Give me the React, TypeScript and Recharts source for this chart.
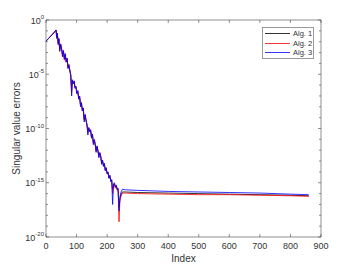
import { LineChart, Line, XAxis, YAxis, Legend } from 'recharts';

// index of each sample (shared by all three algorithms)
const indices = [
  0, 10, 20, 28, 33, 35, 37, 40, 42, 45,
  48, 51, 54, 57, 60, 63, 66, 69, 72, 75,
  78, 81, 84, 86, 89, 92, 95, 98, 101, 104,
  107, 110, 113, 116, 119, 122, 125, 128, 131, 134,
  137, 140, 143, 146, 149, 152, 155, 158, 161, 164,
  167, 170, 173, 176, 179, 182, 185, 188, 191, 194,
  197, 200, 203, 206, 209, 212, 215, 218, 221, 224,
  227, 230, 233, 236, 239, 242,
  245, 250, 260, 300, 400, 500, 600, 700, 800, 860,
];

// log10 of the error
const alg1Exp = [
  -1.95, -1.65, -1.35, -1.1, -0.92, -1.7, -1.3, -2.1, -1.8, -2.7,
  -2.3, -2.7, -3.2, -2.9, -3.5, -3.2, -3.8, -3.6, -4.3, -4.1,
  -4.7, -5.0, -6.4, -5.6, -5.8, -5.7, -6.2, -6.2, -6.7, -6.6,
  -7.2, -7.1, -7.8, -7.7, -8.3, -8.2, -9.1, -8.8, -9.3, -9.6,
  -10.2, -10.0, -10.2, -10.2, -10.8, -10.6, -11.3, -11.1, -11.5, -12.0,
  -11.7, -12.1, -12.5, -12.3, -12.6, -13.1, -13.0, -13.4, -13.3, -13.8,
  -13.7, -14.1, -14.1, -14.5, -14.4, -14.8, -14.8, -15.6, -15.2, -15.1,
  -15.4, -15.3, -15.6, -15.6, -17.3, -16.5,
  -16.1, -15.85, -15.85, -15.9, -15.95, -16.0, -16.05, -16.1, -16.15, -16.2,
];

const alg2Exp = [
  -1.95, -1.65, -1.35, -1.1, -0.92, -1.65, -1.25, -2.3, -1.75, -2.8,
  -2.25, -2.65, -3.3, -2.85, -3.7, -3.15, -3.85, -3.55, -4.4, -4.15,
  -4.65, -5.1, -6.7, -5.55, -5.85, -5.65, -6.25, -6.15, -6.75, -6.55,
  -7.25, -7.05, -7.9, -7.65, -8.35, -8.15, -9.2, -8.75, -9.25, -9.65,
  -10.4, -9.95, -10.25, -10.15, -10.85, -10.55, -11.4, -11.05, -11.45, -12.1,
  -11.65, -12.05, -12.6, -12.25, -12.55, -13.2, -12.95, -13.45, -13.25, -13.85,
  -13.65, -14.15, -14.05, -14.55, -14.35, -14.85, -14.75, -16.0, -15.3, -15.1,
  -15.5, -15.3, -15.7, -15.7, -18.6, -16.6,
  -16.3, -15.95, -15.95, -16.0, -16.05, -16.1, -16.1, -16.15, -16.2, -16.25,
];

const alg3Exp = [
  -1.95, -1.65, -1.35, -1.1, -0.92, -1.6, -1.2, -2.2, -1.7, -2.9,
  -2.2, -2.6, -3.4, -2.8, -3.6, -3.1, -3.9, -3.5, -4.5, -4.2,
  -4.6, -5.2, -7.0, -5.5, -5.9, -5.6, -6.3, -6.1, -6.8, -6.5,
  -7.3, -7.0, -8.0, -7.6, -8.4, -8.1, -9.4, -8.7, -9.2, -9.7,
  -10.6, -9.9, -10.3, -10.1, -10.9, -10.5, -11.5, -11.0, -11.4, -12.2,
  -11.6, -12.0, -12.7, -12.2, -12.5, -13.3, -12.9, -13.5, -13.2, -13.9,
  -13.6, -14.2, -14.0, -14.6, -14.3, -14.9, -14.7, -17.0, -15.1, -15.0,
  -15.4, -15.2, -15.6, -15.5, -17.6, -16.3,
  -15.9, -15.6, -15.65, -15.7, -15.8, -15.85, -15.9, -15.95, -16.05, -16.1,
];

const xTicks = [0, 100, 200, 300, 400, 500, 600, 700, 800, 900];
const yTickExps = [-20, -19, -18, -17, -16, -15, -14, -13, -12, -11, -10, -9, -8, -7, -6, -5, -4, -3, -2, -1, 0];

const data = indices.map((i, k) => ({
  i,
  a1: 10 ** alg1Exp[k],
  a2: 10 ** alg2Exp[k],
  a3: 10 ** alg3Exp[k],
}));

const yTicks = yTickExps.map((e) => 10 ** e);

const FONT = '"Liberation Sans", Arial, sans-serif';
const AXIS = '#444';
const TEXT = '#333';

function BottomTick({ x, y, payload }: any) {
  return (
    <g>
      <line x1={x} x2={x} y1={y} y2={y - 3} stroke={AXIS} strokeWidth={0.6} />
      <text x={x} y={y + 12} textAnchor="middle" fontSize={9} fill={TEXT} fontFamily={FONT}>
        {payload.value}
      </text>
    </g>
  );
}

function TopTick({ x, y }: any) {
  return <line x1={x} x2={x} y1={y} y2={y + 3} stroke={AXIS} strokeWidth={0.6} />;
}

function LeftTick({ x, y, payload }: any) {
  const e = Math.round(Math.log10(payload.value));
  const major = e % 5 === 0;
  return (
    <g>
      <line x1={x} x2={x + (major ? 3 : 2)} y1={y} y2={y} stroke={AXIS} strokeWidth={0.6} />
      {major && (
        <text x={x - 2} y={y + 3.5} textAnchor="end" fontSize={9} fill={TEXT} fontFamily={FONT}>
          <tspan>10</tspan>
          <tspan dy={-4.5} fontSize={6}>{e}</tspan>
        </text>
      )}
    </g>
  );
}

function RightTick({ x, y, payload }: any) {
  const e = Math.round(Math.log10(payload.value));
  const major = e % 5 === 0;
  return <line x1={x} x2={x - (major ? 3 : 2)} y1={y} y2={y} stroke={AXIS} strokeWidth={0.6} />;
}

function renderLegend(props: any) {
  const items = (props.payload || []).filter((it: any) => it.type !== 'none');
  return (
    <div
      style={{
        position: 'relative',
        width: 52,
        height: 32,
        boxSizing: 'border-box',
        border: '1px solid #999',
        background: '#fff',
        fontFamily: FONT,
        fontSize: 7.5,
        color: TEXT,
      }}
    >
      {items.map((it: any, k: number) => (
        <div key={it.value} style={{ position: 'absolute', left: 1, top: 1 + k * 9.5, height: 9, display: 'flex', alignItems: 'center' }}>
          <svg width={26} height={9}>
            <line x1={1} x2={26} y1={4.5} y2={4.5} stroke={it.color} strokeWidth={0.8} />
          </svg>
          <span style={{ marginLeft: 3, whiteSpace: 'nowrap' }}>{it.value}</span>
        </div>
      ))}
    </div>
  );
}

export default function App() {
  return (
    <div style={{ position: 'absolute', left: 0, top: 0, width: 354, height: 266, background: '#fff' }}>
      <LineChart width={354} height={266} data={data} margin={{ top: 19, right: 32, bottom: 0, left: 0 }}>
        <XAxis
          dataKey="i"
          type="number"
          domain={[0, 900]}
          ticks={xTicks}
          interval={0}
          height={29}
          tickSize={0}
          tickMargin={0}
          tickLine={false}
          tick={<BottomTick />}
          axisLine={{ stroke: AXIS, strokeWidth: 0.6 }}
          label={{ value: 'Index', position: 'insideBottom', offset: 4, fontSize: 10, fill: TEXT, fontFamily: FONT }}
        />
        <XAxis
          xAxisId="top"
          orientation="top"
          dataKey="i"
          type="number"
          domain={[0, 900]}
          ticks={xTicks}
          interval={0}
          height={1}
          tickSize={0}
          tickMargin={0}
          tickLine={false}
          tick={<TopTick />}
          axisLine={{ stroke: AXIS, strokeWidth: 0.6 }}
        />
        <YAxis
          type="number"
          scale="log"
          domain={[1e-20, 1]}
          allowDataOverflow
          ticks={yTicks}
          interval={0}
          width={46}
          tickSize={0}
          tickMargin={0}
          tickLine={false}
          tick={<LeftTick />}
          axisLine={{ stroke: AXIS, strokeWidth: 0.6 }}
          label={{
            value: 'Singular value errors',
            angle: -90,
            position: 'insideLeft',
            offset: 16,
            fontSize: 10,
            fill: TEXT,
            fontFamily: FONT,
            style: { textAnchor: 'middle' },
          }}
        />
        <YAxis
          yAxisId="right"
          orientation="right"
          type="number"
          scale="log"
          domain={[1e-20, 1]}
          allowDataOverflow
          ticks={yTicks}
          interval={0}
          width={1}
          tickSize={0}
          tickMargin={0}
          tickLine={false}
          tick={<RightTick />}
          axisLine={{ stroke: AXIS, strokeWidth: 0.6 }}
        />
        <Legend
          layout="vertical"
          align="center"
          verticalAlign="middle"
          content={renderLegend}
          wrapperStyle={{ position: 'absolute', left: 262, top: 27, width: 52, height: 32 }}
        />
        <Line dataKey="a1" name="Alg. 1" stroke="#000000" strokeWidth={0.8} dot={false} isAnimationActive={false} />
        <Line dataKey="a2" name="Alg. 2" stroke="#ff0000" strokeWidth={0.8} dot={false} isAnimationActive={false} />
        <Line dataKey="a3" name="Alg. 3" stroke="#0000ff" strokeWidth={0.8} dot={false} isAnimationActive={false} />
        {/* invisible series so the mirrored top/right axes get drawn */}
        <Line xAxisId="top" yAxisId="right" dataKey="a1" stroke="none" dot={false} legendType="none" isAnimationActive={false} />
      </LineChart>
    </div>
  );
}
